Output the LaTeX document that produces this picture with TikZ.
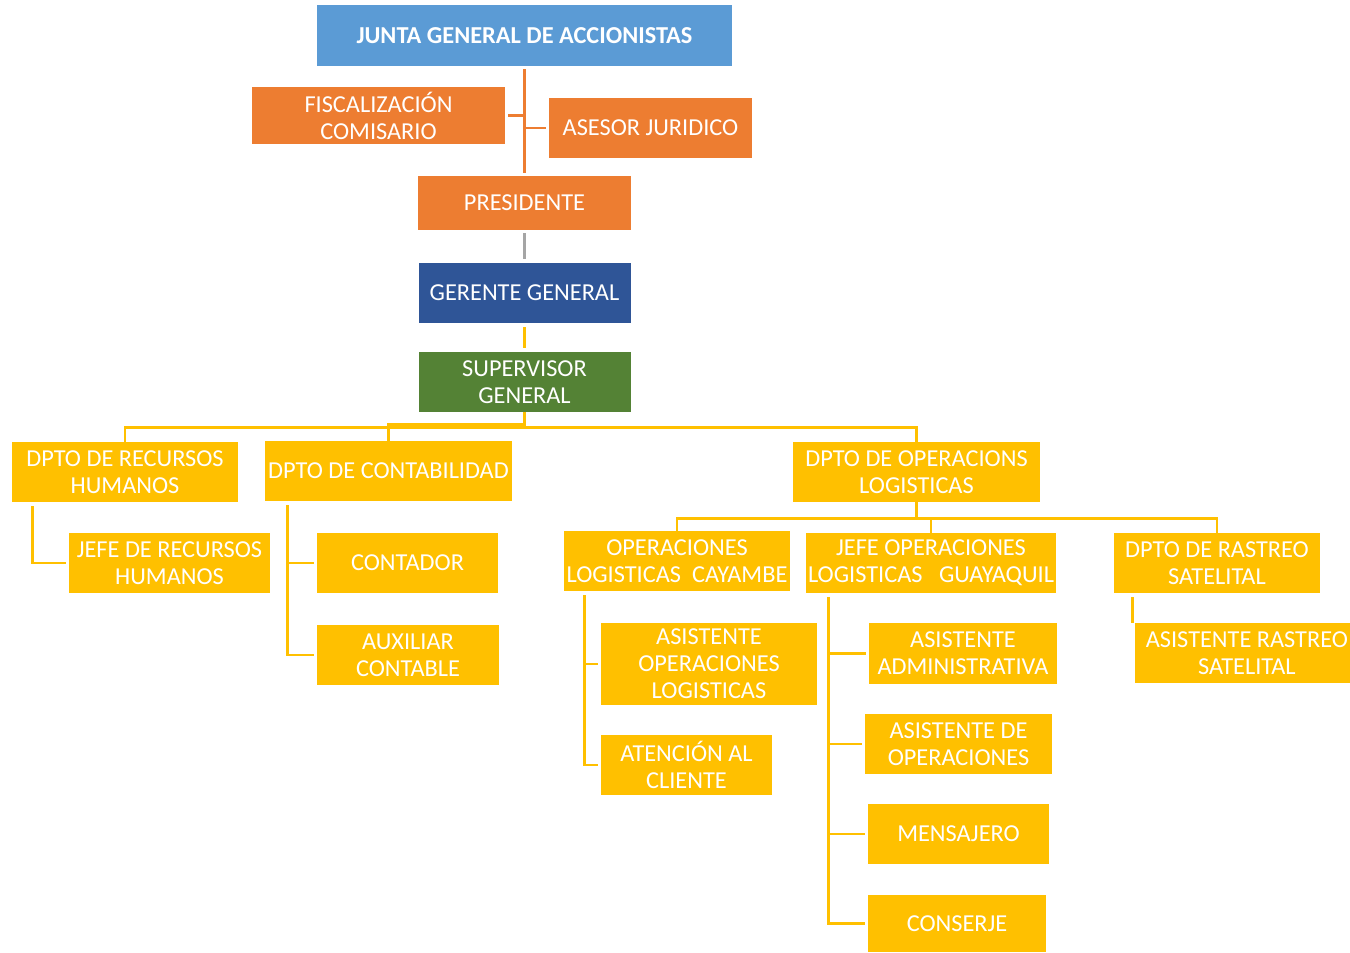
\documentclass[tikz,border=0pt]{standalone}
\usepackage{fontspec}
\setmainfont{Carlito}
\usetikzlibrary{calc}
\definecolor{cblue}{HTML}{5B9BD5}
\definecolor{corange}{HTML}{ED7D31}
\definecolor{cdblue}{HTML}{2F5597}
\definecolor{cgreen}{HTML}{548235}
\definecolor{cyellow}{HTML}{FFC000}
\definecolor{cgray}{HTML}{A5A5A5}
\tikzset{
  box/.style={rectangle, inner sep=0pt, align=center, text=white,
    font=\fontsize{13.85}{15.3}\selectfont},
  sz/.style 2 args={minimum width=#1*0.02cm, minimum height=#2*0.02cm},
  bluebox/.style={box, fill=cblue, font=\fontsize{13.85}{15.3}\selectfont\bfseries},
  orangebox/.style={box, fill=corange},
  dbluebox/.style={box, fill=cdblue},
  greenbox/.style={box, fill=cgreen},
  yellowbox/.style={box, fill=cyellow},
  link/.style={line width=1.6pt, draw=cyellow},
  olink/.style={line width=1.6pt, draw=corange},
  glink/.style={line width=1.6pt, draw=cgray},
}
\begin{document}
\begin{tikzpicture}[x=0.02cm, y=-0.02cm]
\useasboundingbox (0,0) rectangle (1350,953);
% top
\node[bluebox, sz={415}{61}] (junta) at (524.5,35.5) {JUNTA GENERAL DE ACCIONISTAS};
\node[orangebox, sz={253}{57}] (fisc) at (378.5,115.5) {FISCALIZACIÓN\\COMISARIO};
\node[orangebox, sz={203}{60}] (ases) at (650.5,128) {ASESOR JURIDICO};
\node[orangebox, sz={213}{54}] (pres) at (524.5,203) {PRESIDENTE};
\node[dbluebox, sz={212}{60}] (ger) at (524.5,293) {GERENTE GENERAL};
\node[greenbox, sz={212}{60}] (sup) at (524.5,382) {SUPERVISOR\\GENERAL};
% departments
\node[yellowbox, sz={226}{60}] (rrhh) at (125,472) {DPTO DE RECURSOS\\HUMANOS};
\node[yellowbox, sz={247}{60}] (cont) at (388.5,471) {DPTO DE CONTABILIDAD};
\node[yellowbox, sz={247}{60}] (ops) at (916.5,472) {DPTO DE OPERACIONS\\LOGISTICAS};
\node[yellowbox, sz={201}{60}] (jrh) at (169.5,563) {JEFE DE RECURSOS\\HUMANOS};
\node[yellowbox, sz={181}{60}] (contador) at (407.5,563) {CONTADOR};
\node[yellowbox, sz={182}{60}] (aux) at (408,655) {AUXILIAR\\CONTABLE};
\node[yellowbox, sz={226}{60}] (cay) at (677,561) {OPERACIONES\\LOGISTICAS\ \ CAYAMBE};
\node[yellowbox, sz={250}{60}] (guay) at (931,563) {JEFE OPERACIONES\\LOGISTICAS\ \ \ GUAYAQUIL};
\node[yellowbox, sz={206}{60}] (rast) at (1217,563) {DPTO DE RASTREO\\SATELITAL};
\node[yellowbox, sz={215}{60}] (rsat) at (1242.5,653) {\hspace*{5pt}ASISTENTE RASTREO\\\hspace*{5pt}SATELITAL};
\node[yellowbox, sz={216}{82}] (aop) at (709,664) {ASISTENTE\\OPERACIONES\\LOGISTICAS};
\node[yellowbox, sz={171}{60}] (aten) at (686.5,765) {ATENCIÓN AL\\CLIENTE};
\node[yellowbox, sz={188}{61}] (aadm) at (963,653.5) {ASISTENTE\\ADMINISTRATIVA};
\node[yellowbox, sz={187}{60}] (asop) at (958.5,744) {ASISTENTE DE\\OPERACIONES};
\node[yellowbox, sz={181}{60}] (mens) at (958.5,834) {MENSAJERO};
\node[yellowbox, sz={178}{57}] (cons) at (957,923.5) {CONSERJE};
% connectors top
\draw[olink] ([yshift=-3*0.02cm]junta.south) -- ([yshift=3*0.02cm]pres.north);
\draw[olink] ([xshift=3*0.02cm]fisc.east) -- (fisc.east -| junta.south);
\draw[olink] ([xshift=-3*0.02cm]ases.west) -- (ases.west -| junta.south);
\draw[glink] ([yshift=-3*0.02cm]pres.south) -- ([yshift=4*0.02cm]ger.north);
\draw[link] ([yshift=-4*0.02cm]ger.south) -- ([yshift=4*0.02cm]sup.north);
% supervisor to departments
\coordinate (hb) at ($(sup.south)+(0,15)$);
\coordinate (hc) at ($(sup.south)+(0,12)$);
\draw[link] (sup.south) -- (hb) -| (rrhh.north);
\draw[link] (hb) -| (ops.north);
\draw[link] (sup.south) -- (hc) -| (cont.north);
% rrhh
\coordinate (r0) at ($(rrhh.south west)+(21,4)$);
\draw[link] (r0) |- ([xshift=-3*0.02cm]jrh.west);
% contabilidad
\coordinate (c0) at ($(cont.south west)+(23,4)$);
\draw[link] (c0) |- ([xshift=-3*0.02cm]aux.west);
\draw[link] (c0) |- ([xshift=-3*0.02cm]contador.west);
% operaciones
\coordinate (ob) at ($(ops.south)+(0,16)$);
\draw[link] (ops.south) -- (ob) -| (cay.north);
\draw[link] (ob) -| (guay.north);
\draw[link] (ob) -| (rast.north);
% cayambe
\coordinate (k0) at ($(cay.south west)+(21,4)$);
\draw[link] (k0) |- ([xshift=-3*0.02cm]aten.west);
\draw[link] (k0) |- ([xshift=-3*0.02cm]aop.west);
% guayaquil
\coordinate (g0) at ($(guay.south west)+(23,4)$);
\draw[link] (g0) |- ([xshift=-3*0.02cm]cons.west);
\draw[link] (g0) |- ([xshift=-3*0.02cm]mens.west);
\draw[link] (g0) |- ([xshift=-3*0.02cm]asop.west);
\draw[link] (g0) |- ([xshift=-3*0.02cm]aadm.west);
% rastreo
\coordinate (s0) at ($(rast.south west)+(19,4)$);
\draw[link] (s0) -- (s0 |- rsat.north);
\end{tikzpicture}
\end{document}
